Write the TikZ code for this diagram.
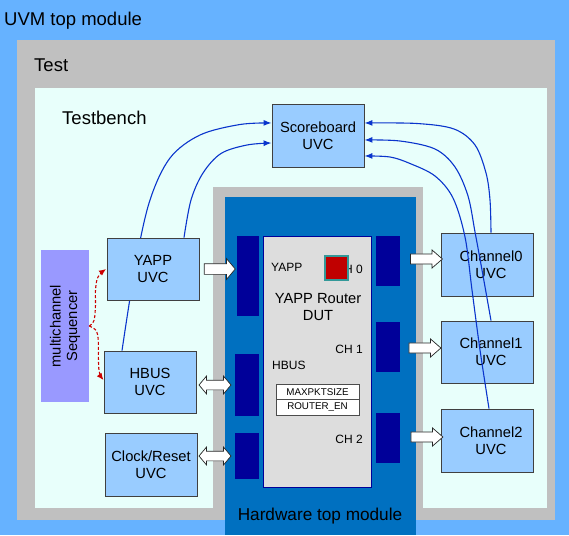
\documentclass[tikz,border=0pt]{standalone}
\usepackage{fontspec}
\setmainfont{Liberation Sans}
\usetikzlibrary{shapes.arrows,arrows.meta}
\pgfdeclarelayer{bg}
\pgfdeclarelayer{mid}
\pgfsetlayers{bg,mid,main}
\definecolor{outerblue}{HTML}{66B2FF}
\definecolor{testgray}{HTML}{C0C0C0}
\definecolor{tbcyan}{HTML}{E8FFFB}
\definecolor{hwblue}{HTML}{0070C0}
\definecolor{portnavy}{HTML}{000099}
\definecolor{dutgray}{HTML}{DDDDDD}
\definecolor{uvcblue}{HTML}{99CCFF}
\definecolor{seqviolet}{HTML}{9999FF}
\definecolor{regred}{HTML}{C00000}
\definecolor{regteal}{HTML}{339999}
\definecolor{linkblue}{HTML}{0A35CC}
\definecolor{seqred}{HTML}{CC0000}
\tikzset{
  uvc/.style={draw=black!75, line width=0.9pt, fill=uvcblue, minimum width=92pt, minimum height=62pt,
    inner sep=0pt, align=center, font=\fontsize{14.7}{17}\selectfont},
  port/.style={fill=portnavy, minimum width=24pt, inner sep=0pt},
  lbl/.style={inner sep=0pt, font=\fontsize{18.5}{22}\selectfont},
  small/.style={inner sep=0pt, font=\fontsize{12}{14}\selectfont},
  reg/.style={draw=black!70, fill=white, minimum width=83pt, minimum height=15.5pt, inner sep=0pt,
    font=\fontsize{9.8}{11}\selectfont},
  sarrow/.style={single arrow, draw=black!85, line width=0.7pt, fill=white, inner sep=0pt, inner ysep=5pt,
    single arrow head extend=5pt, single arrow tip angle=100, minimum height=31pt},
  charrow/.style={single arrow, draw=black!85, line width=0.7pt, fill=white, inner sep=0pt, inner ysep=4.7pt,
    single arrow head extend=4pt, single arrow tip angle=82, minimum height=32pt},
  darrow/.style={double arrow, draw=black!85, line width=0.7pt, fill=white, inner sep=0pt, inner ysep=4.5pt,
    double arrow head extend=4pt, double arrow tip angle=100, minimum height=32pt},
  link/.style={draw=linkblue, line width=1.1pt, -{Latex[length=8pt,width=6pt]}},
  seqlink/.style={draw=seqred, line width=1.1pt, dashed, dash pattern=on 3pt off 2pt, -{Latex[length=7pt,width=6pt]}},
}
\begin{document}
\begin{tikzpicture}[x=1pt,y=-1pt]
\useasboundingbox (0,0) rectangle (569,535);
\begin{pgfonlayer}{bg}
  \fill[outerblue] (0,0) rectangle (569,535);
  \fill[testgray] (17,40) rectangle (555,520);
  \fill[tbcyan] (35,88) rectangle (547,508);
  \fill[testgray] (213,187) rectangle (423,520);
  \fill[hwblue] (225,197) rectangle (416,535);
\end{pgfonlayer}

\node[lbl, anchor=base west] (uvmlbl) at (4,26) {UVM top module};
\node[lbl, anchor=base west] (testlbl) at (34,71.5) {Test};
\node[lbl, anchor=base west] (tblbl) at (62,124) {Testbench};
\node[inner sep=0pt, font=\fontsize{17.2}{20}\selectfont, anchor=base] (hwlbl) at (320,520.5) {Hardware top module};

% DUT
\node[draw=portnavy, line width=0.9pt, fill=dutgray, minimum width=108pt, minimum height=251pt, inner sep=0pt] (dut) at (317,361.5) {};
\node[small, anchor=base east] (ch0lbl) at (363,273.3) {CH 0};
\node[draw=regteal, line width=1.3pt, fill=regred, minimum width=23pt, minimum height=24pt, inner sep=0pt] (redsq) at (336.5,268) {};
\node[small, anchor=base west] (yappl) at (271,271) {YAPP};
\node[small, anchor=base east] (ch1lbl) at (363,353.3) {CH 1};
\node[small, anchor=base west] (hbusl) at (272,369.3) {HBUS};
\node[small, anchor=base east] (ch2lbl) at (363,443.3) {CH 2};
\node[inner sep=0pt, align=center, font=\fontsize{14.7}{16.7}\selectfont] (dutlbl) at (318,307) {YAPP Router\\DUT};
\node[reg] (maxpkt) at (317.5,391.75) {MAXPKTSIZE};
\node[reg] (rten) at (317.5,407.25) {ROUTER\_EN};

% ports
\node[port, minimum width=22pt, minimum height=80pt] (yport) at (248,276) {};
\node[port, minimum height=62pt] (hport) at (247,385) {};
\node[port, minimum height=46pt] (cport) at (247,456) {};
\node[port, minimum height=50pt] (p0) at (388,261) {};
\node[port, minimum height=50pt] (p1) at (388,347) {};
\node[port, minimum height=50pt] (p2) at (388,438) {};

% UVCs
\node[uvc, minimum height=63pt] (sb) at (318,135.5) {Scoreboard\\UVC};
\node[uvc] (yapp) at (153,269) {YAPP\\UVC};
\node[uvc] (hbus) at (150,382) {HBUS\\UVC};
\node[uvc, minimum height=63pt] (clk) at (151,464.5) {Clock/Reset\\UVC};
\node[fill=seqviolet, minimum width=48pt, minimum height=152pt, inner sep=0pt] (seq) at (65,326) {};
\node[rotate=90, inner sep=0pt, align=center, font=\fontsize{14.7}{16.5}\selectfont] (seqlbl) at (seq.center) {multichannel\\Sequencer};
\node[uvc, minimum height=63pt] (ch0) at (487,264.5) {\hspace*{8pt}Channel0\\\hspace*{8pt}UVC};
\node[uvc] (ch1) at (487,352) {\hspace*{8pt}Channel1\\\hspace*{8pt}UVC};
\node[uvc, minimum height=63pt] (ch2) at (487,440.5) {\hspace*{8pt}Channel2\\\hspace*{8pt}UVC};

% block arrows
\node[sarrow] (ya) at (217.5,269) {};
\node[darrow] (ha) at (215,385) {};
\node[darrow] (ca) at (215,456) {};
\node[charrow] (a0) at (423.5,259) {};
\node[charrow] (a1) at (422,348) {};
\node[charrow] (a2) at (424,437) {};

% links to scoreboard (left ones behind the UVC boxes)
\begin{pgfonlayer}{mid}
\draw[link] plot[smooth, tension=0.55] coordinates {([xshift=-28pt]hbus.north) (136,262) (150,200) (170,158) (200,135) (240,124.5) ([yshift=12.5pt]sb.west)};
\draw[link] plot[smooth, tension=0.55] coordinates {([xshift=31pt]yapp.north) (191,200) (203,173) (221,153.5) (247,145) ([yshift=-7.5pt]sb.west)};
\end{pgfonlayer}
\draw[link] plot[smooth, tension=0.55] coordinates {([xshift=4pt]ch0.north) (490,200) (486,173) (475,145) (454,129) (417,123.5) ([yshift=12.5pt]sb.east)};
\draw[link] plot[smooth, tension=0.55] coordinates {([xshift=4pt]ch1.north) (482,270) (475,232) (468,196) (455,167) (435,149) (400,141) ([yshift=-4.5pt]sb.east)};
\draw[link] plot[smooth, tension=0.55] coordinates {([xshift=2pt]ch2.north) (480,350) (472,290) (465,237) (453,198) (435,176) (410,163.5) (390,157) ([yshift=-20.5pt]sb.east)};

% sequencer links
\draw[seqlink] plot[smooth, tension=0.6] coordinates {(seq.east) (94,320.5) (95.5,305) (95.5,290) (98,277) ([xshift=-0.5pt]yapp.west)};
\draw[seqlink] plot[smooth, tension=0.6] coordinates {(seq.east) (96.5,331) (98.3,342) (98.5,362) (99.5,373) ([yshift=2pt]hbus.west)};
\end{tikzpicture}
\end{document}
